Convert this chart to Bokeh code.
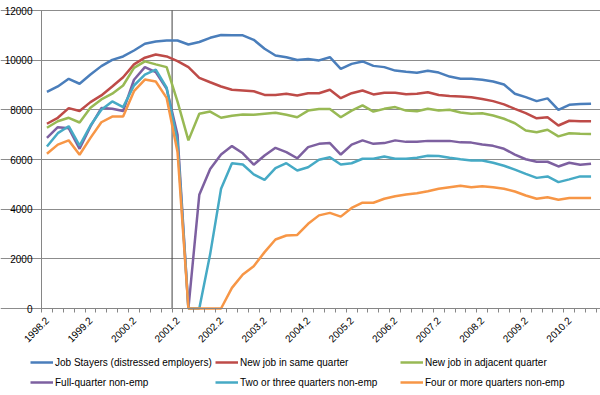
import math
from bokeh.plotting import figure
from bokeh.models import Range1d, FixedTicker, Legend, LegendItem
from bokeh.embed import file_html
from bokeh.resources import INLINE

quarters = ["1998.2", "1998.3", "1998.4", "1999.1", "1999.2", "1999.3", "1999.4",
            "2000.1", "2000.2", "2000.3", "2000.4", "2001.1", "2001.2", "2001.3",
            "2001.4", "2002.1", "2002.2", "2002.3", "2002.4", "2003.1", "2003.2",
            "2003.3", "2003.4", "2004.1", "2004.2", "2004.3", "2004.4", "2005.1",
            "2005.2", "2005.3", "2005.4", "2006.1", "2006.2", "2006.3", "2006.4",
            "2007.1", "2007.2", "2007.3", "2007.4", "2008.1", "2008.2", "2008.3",
            "2008.4", "2009.1", "2009.2", "2009.3", "2009.4", "2010.1", "2010.2",
            "2010.3", "2010.4"]

job_stayers = [8720, 8940, 9250, 9050, 9420, 9760, 10010, 10150, 10390, 10660,
               10750, 10790, 10790, 10630, 10730, 10900, 11010, 11000, 11000, 10820,
               10460, 10190, 10120, 10010, 10050, 9990, 10120, 9650, 9850, 9950,
               9770, 9720, 9580, 9530, 9490, 9570, 9500, 9340, 9250, 9250,
               9210, 9140, 9020, 8650, 8510, 8350, 8460, 8000, 8200, 8230, 8240]
same_quarter = [7440, 7680, 8070, 7950, 8310, 8580, 8940, 9310, 9830, 10100,
                10230, 10150, 9960, 9720, 9290, 9110, 8940, 8810, 8780, 8750,
                8600, 8600, 8650, 8580, 8670, 8670, 8810, 8470, 8670, 8780,
                8620, 8690, 8690, 8630, 8650, 8710, 8600, 8560, 8540, 8510,
                8440, 8350, 8220, 8040, 7870, 7660, 7700, 7370, 7560, 7540, 7540]
adjacent_quarter = [7280, 7540, 7680, 7490, 8080, 8420, 8650, 8980, 9690, 9950,
                    9830, 9720, 8330, 6770, 7840, 7930, 7680, 7760, 7810, 7800,
                    7840, 7880, 7800, 7700, 7970, 8030, 8030, 7700, 7970, 8180,
                    7930, 8040, 8110, 7970, 7940, 8040, 7970, 8000, 7890, 7840,
                    7860, 7770, 7640, 7460, 7170, 7100, 7200, 6930, 7060, 7040, 7030]
full_quarter = [6870, 7300, 7260, 6430, 7330, 8070, 8040, 7950, 9210, 9720,
                9520, 8850, 7000, 0, 4580, 5620, 6200, 6540, 6250, 5790,
                6160, 6470, 6300, 6050, 6500, 6630, 6660, 6200, 6600, 6770,
                6630, 6660, 6770, 6710, 6710, 6750, 6740, 6750, 6690, 6680,
                6600, 6550, 6430, 6200, 6010, 5910, 5910, 5720, 5870, 5790, 5830]
two_three = [6520, 7060, 7340, 6560, 7370, 8000, 8340, 8110, 8980, 9420,
             9620, 8890, 6700, 0, 0, 2190, 4820, 5850, 5800, 5400,
             5180, 5650, 5850, 5560, 5690, 5990, 6090, 5800, 5850, 6030,
             6030, 6120, 6030, 6030, 6070, 6150, 6140, 6070, 6010, 5960,
             5960, 5870, 5750, 5590, 5420, 5260, 5320, 5090, 5200, 5320, 5320]
four_more = [6230, 6600, 6770, 6190, 6870, 7500, 7730, 7730, 8750, 9220,
             9140, 8480, 6300, 0, 0, 0, 0, 830, 1370, 1700,
             2270, 2780, 2940, 2960, 3410, 3750, 3850, 3700, 4050, 4260,
             4260, 4420, 4520, 4590, 4640, 4720, 4820, 4880, 4940, 4880,
             4920, 4880, 4820, 4710, 4550, 4420, 4480, 4380, 4450, 4450, 4450]

series_names = ["Job Stayers (distressed employers)", "New job in same quarter",
                "New job in adjacent quarter", "Full-quarter non-emp",
                "Two or three quarters non-emp", "Four or more quarters non-emp"]
series_values = [job_stayers, same_quarter, adjacent_quarter, full_quarter,
                 two_three, four_more]
series_colors = ["#4A7EBB", "#BE4B48", "#98B954", "#7D60A0", "#46AAC5", "#F79646"]

y_ticks = [0, 2000, 4000, 6000, 8000, 10000, 12000]
y_max = 12000
break_position = 11.5  # between 2001.1 and 2001.2

FONT = "Liberation Sans"

# layout (pixels inside the figure)
W, H = 600, 395
left_px, right_px, top_px, zero_px = 41, 596, 10, 308

n = len(quarters)
xs = list(range(n))
x_per_px = n / (right_px - left_px)
y_per_px = y_max / (zero_px - top_px)
x_start = -0.5 - left_px * x_per_px
x_end = n - 0.5 + (W - right_px) * x_per_px
y_end = y_max + top_px * y_per_px
y_start = -(H - zero_px) * y_per_px

p = figure(width=W, height=H, output_backend="svg", toolbar_location=None,
           x_range=Range1d(x_start, x_end), y_range=Range1d(y_start, y_end),
           min_border_left=0, min_border_right=0, min_border_top=0,
           min_border_bottom=0)
p.outline_line_color = None
p.background_fill_color = "white"
p.border_fill_color = "white"

p.xgrid.grid_line_color = None
p.ygrid.grid_line_color = "#8C8C8C"
p.ygrid.grid_line_width = 1
p.ygrid.bounds = (-0.5, n - 0.5)

# y axis
p.yaxis.fixed_location = -0.5
p.yaxis.bounds = (0, y_max)
p.yaxis.ticker = FixedTicker(ticks=y_ticks, minor_ticks=[])
p.yaxis.axis_line_color = "#868686"
p.yaxis.major_tick_out = 0
p.yaxis.major_tick_in = 0
p.yaxis.minor_tick_line_color = None
p.yaxis.major_label_standoff = 9
p.yaxis.major_label_text_font = FONT
p.yaxis.major_label_text_font_size = "10px"
p.yaxis.major_label_text_color = "black"

# x axis
label_idx = list(range(0, n, 4))
p.xaxis.fixed_location = 0
p.xaxis.bounds = (-0.5, n - 0.5)
p.xaxis.ticker = FixedTicker(ticks=label_idx,
                             minor_ticks=[i - 0.5 for i in range(n + 1)])
p.xaxis.major_label_overrides = {i: quarters[i] for i in label_idx}
p.xaxis.major_label_orientation = math.pi / 4
p.xaxis.major_tick_line_color = None
p.xaxis.major_tick_out = 0
p.xaxis.major_tick_in = 0
p.xaxis.minor_tick_out = 4
p.xaxis.minor_tick_in = 0
p.xaxis.minor_tick_line_color = "#868686"
p.xaxis.axis_line_color = "#868686"
p.xaxis.major_label_standoff = 6
p.xaxis.major_label_text_font = FONT
p.xaxis.major_label_text_font_size = "10px"
p.xaxis.major_label_text_color = "black"

# vertical break line
p.segment(x0=[break_position], y0=[0], x1=[break_position], y1=[y_max],
          line_color="#404040", line_width=1)

renderers = []
for name, vals, col in zip(series_names, series_values, series_colors):
    r = p.line(xs, vals, line_color=col, line_width=2.5)
    renderers.append(r)

col_x = [30, 215, 400]
for c in range(3):
    items = [LegendItem(label=series_names[c], renderers=[renderers[c]]),
             LegendItem(label=series_names[c + 3], renderers=[renderers[c + 3]])]
    leg = Legend(items=items, location=(col_x[c], 7), orientation="vertical",
                 border_line_color=None, background_fill_alpha=0, padding=0,
                 margin=0, spacing=8, glyph_width=23, glyph_height=12,
                 label_height=12, label_standoff=2, label_text_font=FONT,
                 label_text_font_size="10px", label_text_color="black")
    p.add_layout(leg)

open("out.html", "w").write(file_html(p, INLINE))
